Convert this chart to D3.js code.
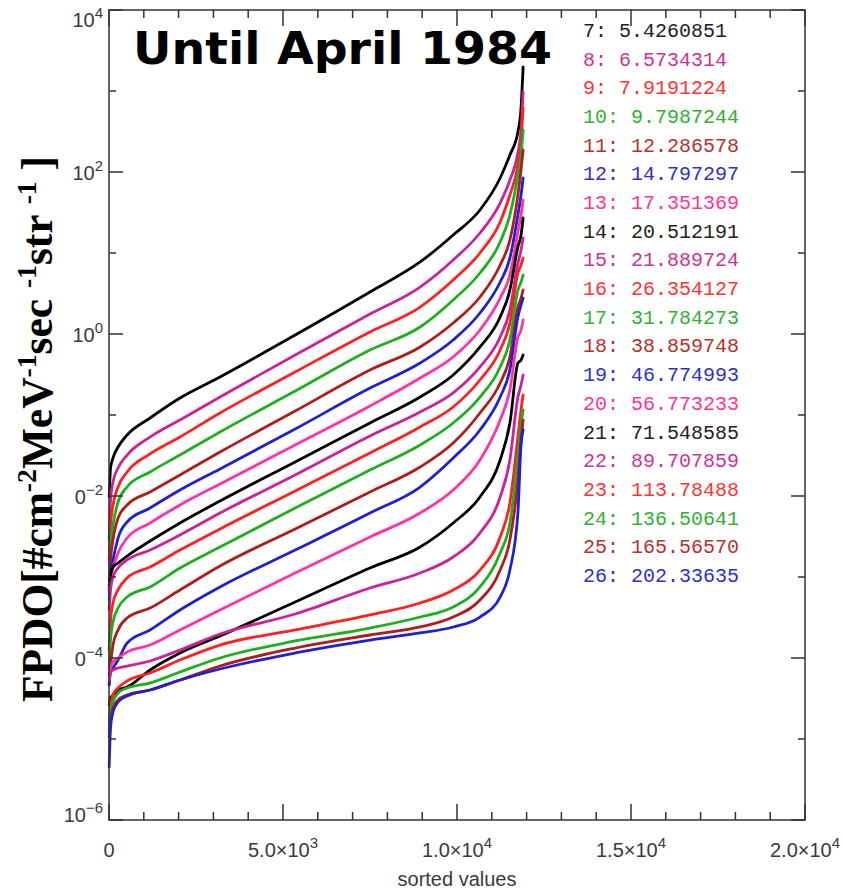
<!DOCTYPE html>
<html>
<head>
<meta charset="utf-8">
<script src="https://cdn.jsdelivr.net/npm/d3@7"></script>
<style>
  html, body { margin: 0; padding: 0; background: #fff; }
  svg { display: block; }
</style>
</head>
<body>
<svg id="chart" width="843" height="894"></svg>
<script>
// Sorted-sample index (x) shared by every energy channel
const sortIndex = [5, 45, 115, 260, 520, 1180, 2040, 3190, 5350, 7500, 8940, 9890, 10660, 11240, 11520, 11750, 11840, 11900];

// log10 of FPDO per channel, at each sortIndex position
const ch07 = [-2.012, -1.654, -1.531, -1.395, -1.247, -1.037, -0.790, -0.531, -0.012, 0.519, 0.889, 1.222, 1.531, 1.926, 2.210, 2.494, 2.790, 3.296];
const ch08 = [-2.543, -2.049, -1.827, -1.654, -1.494, -1.272, -1.062, -0.778, -0.259, 0.247, 0.580, 0.914, 1.247, 1.617, 1.901, 2.235, 2.519, 2.988];
const ch09 = [-2.790, -2.358, -2.111, -1.889, -1.704, -1.481, -1.272, -0.975, -0.469, 0.025, 0.333, 0.667, 1.000, 1.383, 1.716, 2.086, 2.395, 2.790];
const ch10 = [-3.037, -2.605, -2.358, -2.074, -1.889, -1.704, -1.494, -1.210, -0.704, -0.198, 0.086, 0.420, 0.753, 1.136, 1.469, 1.963, 2.210, 2.519];
const ch11 = [-3.160, -2.790, -2.543, -2.272, -2.111, -1.951, -1.741, -1.457, -0.951, -0.444, -0.160, 0.136, 0.457, 0.852, 1.160, 1.716, 2.025, 2.272];
const ch12 = [-3.284, -2.975, -2.790, -2.519, -2.321, -2.148, -1.926, -1.667, -1.173, -0.667, -0.358, -0.074, 0.259, 0.642, 0.938, 1.469, 1.716, 1.926];
const ch13 = [-3.160, -3.012, -2.889, -2.704, -2.519, -2.333, -2.111, -1.852, -1.370, -0.889, -0.543, -0.284, 0.049, 0.444, 0.728, 1.259, 1.469, 1.654];
const ch14 = [-3.099, -2.975, -2.877, -2.827, -2.741, -2.556, -2.333, -2.062, -1.580, -1.099, -0.778, -0.506, -0.160, 0.210, 0.543, 1.074, 1.222, 1.432];
const ch15 = [-3.407, -3.160, -3.000, -2.889, -2.790, -2.667, -2.481, -2.210, -1.741, -1.259, -0.963, -0.728, -0.407, -0.037, 0.296, 0.877, 1.037, 1.185];
const ch16 = [-3.901, -3.531, -3.321, -3.160, -3.012, -2.877, -2.667, -2.407, -1.938, -1.469, -1.148, -0.901, -0.568, -0.198, 0.136, 0.753, 0.852, 0.938];
const ch17 = [-4.123, -3.778, -3.556, -3.383, -3.247, -3.123, -2.889, -2.630, -2.148, -1.679, -1.370, -1.099, -0.778, -0.407, -0.074, 0.543, 0.642, 0.728];
const ch18 = [-4.333, -4.086, -3.840, -3.654, -3.506, -3.383, -3.160, -2.864, -2.407, -1.951, -1.642, -1.346, -0.975, -0.605, -0.284, 0.333, 0.444, 0.543];
const ch19 = [-4.333, -4.173, -4.123, -4.025, -3.815, -3.654, -3.407, -3.123, -2.667, -2.210, -1.889, -1.531, -1.185, -0.778, -0.444, 0.210, 0.358, 0.444];
const ch20 = [-4.272, -4.123, -4.049, -4.000, -3.926, -3.840, -3.654, -3.407, -2.951, -2.506, -2.210, -1.926, -1.556, -1.062, -0.691, -0.037, 0.049, 0.173];
const ch21 = [-4.580, -4.494, -4.457, -4.395, -4.358, -4.148, -3.938, -3.728, -3.309, -2.889, -2.630, -2.333, -2.012, -1.556, -1.099, -0.358, -0.321, -0.259];
const ch22 = [-4.210, -4.173, -4.148, -4.123, -4.099, -4.037, -3.901, -3.704, -3.457, -3.136, -2.951, -2.753, -2.457, -2.012, -1.556, -0.778, -0.630, -0.506];
const ch23 = [-4.790, -4.580, -4.457, -4.370, -4.284, -4.185, -4.025, -3.840, -3.654, -3.469, -3.321, -3.160, -2.914, -2.506, -2.086, -1.272, -0.938, -0.753];
const ch24 = [-4.914, -4.667, -4.543, -4.432, -4.370, -4.309, -4.173, -4.000, -3.790, -3.630, -3.494, -3.370, -3.123, -2.704, -2.333, -1.519, -1.123, -0.938];
const ch25 = [-4.975, -4.790, -4.617, -4.519, -4.457, -4.395, -4.272, -4.099, -3.877, -3.716, -3.617, -3.494, -3.284, -2.914, -2.543, -1.802, -1.309, -1.062];
const ch26 = [-5.346, -4.852, -4.667, -4.543, -4.469, -4.395, -4.272, -4.136, -3.938, -3.778, -3.691, -3.617, -3.494, -3.247, -2.914, -2.210, -1.370, -1.185];

// Channel numbers and their energies (legend text)
const channels = [7, 8, 9, 10, 11, 12, 13, 14, 15, 16, 17, 18, 19, 20, 21, 22, 23, 24, 25, 26];
const energies = ["5.4260851", "6.5734314", "7.9191224", "9.7987244", "12.286578", "14.797297",
  "17.351369", "20.512191", "21.889724", "26.354127", "31.784273", "38.859748", "46.774993",
  "56.773233", "71.548585", "89.707859", "113.78488", "136.50641", "165.56570", "202.33635"];
const seriesLog = [ch07, ch08, ch09, ch10, ch11, ch12, ch13, ch14, ch15, ch16, ch17, ch18, ch19, ch20, ch21, ch22, ch23, ch24, ch25, ch26];

// Seven-colour cycle used for the channels
const palette = ["#000000", "#cc2299", "#ff2020", "#1fae1f", "#b01c1c", "#2020d0", "#ff33a6"];
const legendPalette = ["#222222", "#cc3399", "#ff3333", "#33b033", "#b83030", "#3030c8", "#ff3399"];

// Axis ticks
const yMajorExp = [4, 2, 0, -2, -4, -6];
const yMinorExp = [3, 1, -1, -3, -5];
const xMajor = [0, 5000, 10000, 15000, 20000];
const xMajorLabels = [["0", ""], ["5.0×10", "3"], ["1.0×10", "4"], ["1.5×10", "4"], ["2.0×10", "4"]];

const svg = d3.select("#chart");
const plotLeft = 109, plotRight = 805, plotTop = 10, plotBottom = 820;

const x = d3.scaleLinear().domain([0, 20000]).range([plotLeft, plotRight]);
const y = d3.scaleLog().domain([1e-6, 1e4]).range([plotBottom, plotTop]);

const axisColor = "#333";
const labelFont = "'Liberation Sans', Arial, sans-serif";

// Curves
const line = d3.line()
  .x(d => x(d[0]))
  .y(d => y(d[1]))
  .curve(d3.curveMonotoneX);

const plot = svg.append("g");
seriesLog.forEach((vals, i) => {
  const pts = sortIndex.map((s, j) => [s, Math.pow(10, vals[j])]);
  plot.append("path")
    .attr("d", line(pts))
    .attr("fill", "none")
    .attr("stroke", palette[i % palette.length])
    .attr("stroke-width", 2.8)
    .attr("stroke-linejoin", "round")
    .attr("stroke-linecap", "round");
});

// Frame and ticks
const frame = svg.append("g").attr("stroke", axisColor).attr("stroke-width", 1.5).attr("fill", "none");
frame.append("rect").attr("x", plotLeft).attr("y", plotTop)
  .attr("width", plotRight - plotLeft).attr("height", plotBottom - plotTop);

const xMinor = d3.range(1000, 20000, 1000).filter(v => v % 5000 !== 0);
xMajor.forEach(v => {
  frame.append("line").attr("x1", x(v)).attr("x2", x(v)).attr("y1", plotBottom).attr("y2", plotBottom - 16);
  frame.append("line").attr("x1", x(v)).attr("x2", x(v)).attr("y1", plotTop).attr("y2", plotTop + 16);
});
xMinor.forEach(v => {
  frame.append("line").attr("x1", x(v)).attr("x2", x(v)).attr("y1", plotBottom).attr("y2", plotBottom - 8);
  frame.append("line").attr("x1", x(v)).attr("x2", x(v)).attr("y1", plotTop).attr("y2", plotTop + 8);
});
yMajorExp.forEach(e => {
  const yy = y(Math.pow(10, e));
  frame.append("line").attr("x1", plotLeft).attr("x2", plotLeft + 14).attr("y1", yy).attr("y2", yy);
  frame.append("line").attr("x1", plotRight).attr("x2", plotRight - 14).attr("y1", yy).attr("y2", yy);
});
yMinorExp.forEach(e => {
  const yy = y(Math.pow(10, e));
  frame.append("line").attr("x1", plotLeft).attr("x2", plotLeft + 7).attr("y1", yy).attr("y2", yy);
  frame.append("line").attr("x1", plotRight).attr("x2", plotRight - 7).attr("y1", yy).attr("y2", yy);
});

// Y tick labels
const yLab = svg.append("g").attr("font-family", labelFont).attr("fill", "#3a3a3a");
yMajorExp.forEach(e => {
  let base = y(Math.pow(10, e)) + 8;
  if (e === 4) base = 27;
  if (e === -6) base = 822;
  const t = yLab.append("text").attr("x", 103).attr("y", base).attr("text-anchor", "end").attr("font-size", 20);
  t.append("tspan").text("10");
  t.append("tspan").attr("dy", -9).attr("font-size", 15).text(e < 0 ? "−" + Math.abs(e) : String(e));
});

// X tick labels
const xLab = svg.append("g").attr("font-family", labelFont).attr("fill", "#3a3a3a");
xMajor.forEach((v, i) => {
  const t = xLab.append("text").attr("x", x(v)).attr("y", 857).attr("text-anchor", "middle").attr("font-size", 20);
  t.append("tspan").text(xMajorLabels[i][0]);
  if (xMajorLabels[i][1]) t.append("tspan").attr("dy", -9).attr("font-size", 15).text(xMajorLabels[i][1]);
});
xLab.append("text").attr("x", x(10000)).attr("y", 886).attr("text-anchor", "middle")
  .attr("font-size", 20).text("sorted values");

// Legend: channel number and energy
const legend = svg.append("g").attr("font-family", "'Liberation Mono', 'DejaVu Sans Mono', monospace").attr("font-size", 20);
channels.forEach((c, i) => {
  legend.append("text")
    .attr("x", 583)
    .attr("y", 37 + i * 28.68)
    .attr("fill", legendPalette[i % legendPalette.length])
    .attr("xml:space", "preserve")
    .text(c + ": " + energies[i]);
});

// Title
svg.append("text")
  .attr("x", 133).attr("y", 64)
  .attr("font-family", "'DejaVu Sans', Verdana, sans-serif")
  .attr("font-weight", "bold").attr("font-size", 45)
  .attr("textLength", 419).attr("lengthAdjust", "spacingAndGlyphs")
  .attr("fill", "#000")
  .text("Until April 1984");

// Y axis title on a white backing
svg.append("rect").attr("x", 0).attr("y", 150).attr("width", 74).attr("height", 556).attr("fill", "#fff");
const yt = svg.append("text")
  .attr("transform", "translate(52,702) rotate(-90)")
  .attr("font-family", "'Liberation Serif', 'Times New Roman', serif")
  .attr("font-weight", "bold").attr("font-size", 44)
  .attr("textLength", 546).attr("lengthAdjust", "spacingAndGlyphs")
  .attr("fill", "#000");
yt.append("tspan").text("FPDO[#cm");
yt.append("tspan").attr("dy", -16).attr("font-size", 28).text("-2");
yt.append("tspan").attr("dy", 16).text("MeV");
yt.append("tspan").attr("dy", -16).attr("font-size", 28).text("-1");
yt.append("tspan").attr("dy", 16).text("sec ");
yt.append("tspan").attr("dy", -16).attr("font-size", 28).text("-1");
yt.append("tspan").attr("dy", 16).text("str ");
yt.append("tspan").attr("dy", -16).attr("font-size", 28).text("-1");
yt.append("tspan").attr("dy", 16).text(" ]");
</script>
</body>
</html>
